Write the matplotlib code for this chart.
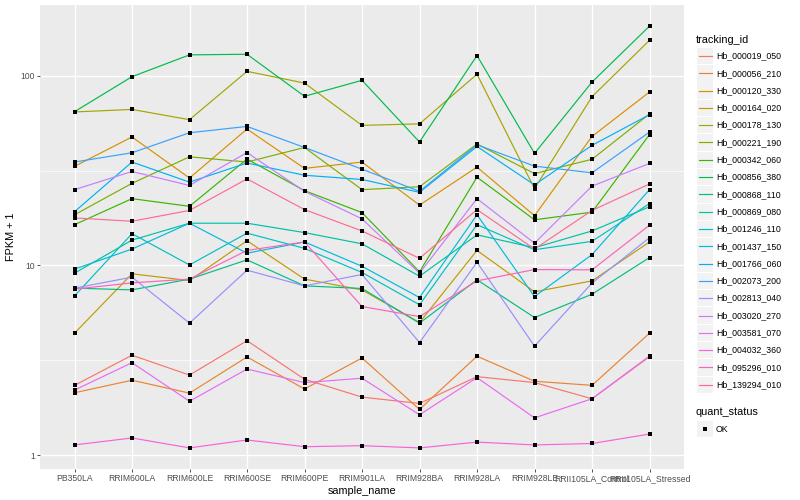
import numpy as np
import matplotlib
matplotlib.use('Agg')
import matplotlib.pyplot as plt
from matplotlib.lines import Line2D
from matplotlib.patches import Rectangle

plt.rcParams['font.family'] = ['Liberation Sans', 'DejaVu Sans']

samples = ['PB350LA', 'RRIM600LA', 'RRIM600LE', 'RRIM600SE', 'RRIM600PE', 'RRIM901LA',
           'RRIM928BA', 'RRIM928LA', 'RRIM928LE', 'RRII105LA_Control', 'RRII105LA_Stressed']

tracking_ids = ['Hb_000019_050', 'Hb_000056_210', 'Hb_000120_330', 'Hb_000164_020',
                'Hb_000178_130', 'Hb_000221_190', 'Hb_000342_060', 'Hb_000856_380',
                'Hb_000868_110', 'Hb_000869_080', 'Hb_001246_110', 'Hb_001437_150',
                'Hb_001766_060', 'Hb_002073_200', 'Hb_002813_040', 'Hb_003020_270',
                'Hb_003581_070', 'Hb_004032_360', 'Hb_095296_010', 'Hb_139294_010']

# FPKM + 1 per sample
hb_000019_050 = [2.33, 3.36, 2.64, 4.01, 2.51, 2.02, 1.87, 2.59, 2.41, 1.98, 3.30]
hb_000056_210 = [2.13, 2.48, 2.12, 3.29, 2.23, 3.25, 1.74, 3.32, 2.45, 2.33, 4.39]
hb_000120_330 = [33.3, 47.6, 28.9, 52.4, 32.5, 35.1, 20.8, 33.0, 18.3, 47.9, 82.2]
hb_000164_020 = [4.39, 9.03, 8.32, 13.5, 8.47, 7.43, 5.0, 12.0, 7.26, 8.29, 13.3]
hb_000178_130 = [64.5, 66.5, 58.7, 105.6, 91.6, 54.8, 55.8, 102.0, 25.4, 77.6, 154.0]
hb_000221_190 = [18.5, 27.1, 37.4, 35.1, 41.9, 25.1, 26.0, 43.7, 30.5, 36.3, 63.0]
hb_000342_060 = [16.4, 22.5, 20.5, 36.4, 24.8, 19.0, 9.25, 29.2, 17.4, 19.1, 49.0]
hb_000856_380 = [64.7, 99.0, 129.0, 130.0, 78.0, 94.7, 44.8, 128.0, 39.0, 92.7, 183.0]
hb_000868_110 = [7.59, 7.43, 8.47, 10.7, 7.8, 7.56, 4.96, 8.4, 5.31, 7.05, 11.0]
hb_000869_080 = [9.1, 13.6, 16.7, 16.7, 14.9, 13.0, 8.77, 14.5, 12.4, 15.2, 20.4]
hb_001246_110 = [6.9, 14.7, 10.06, 14.8, 12.3, 9.18, 6.2, 16.4, 12.1, 13.4, 21.2]
hb_001437_150 = [9.56, 12.2, 16.7, 11.6, 13.3, 9.9, 6.77, 18.5, 6.85, 11.4, 25.1]
hb_001766_060 = [19.2, 35.1, 27.5, 34.7, 29.9, 28.4, 24.3, 42.4, 26.6, 43.0, 62.4]
hb_002073_200 = [35.1, 39.3, 50.1, 54.1, 41.9, 32.2, 24.6, 43.3, 33.4, 30.8, 50.5]
hb_002813_040 = [7.59, 8.67, 4.96, 9.44, 7.8, 8.96, 3.92, 10.4, 3.75, 8.07, 14.0]
hb_003020_270 = [25.1, 31.3, 26.4, 39.4, 24.6, 17.6, 9.1, 22.5, 13.1, 26.2, 34.5]
hb_003581_070 = [2.2, 3.07, 1.92, 2.84, 2.41, 2.54, 1.63, 2.56, 1.57, 1.98, 3.33]
hb_004032_360 = [1.13, 1.23, 1.09, 1.20, 1.106, 1.12, 1.09, 1.17, 1.13, 1.15, 1.29]
hb_095296_010 = [7.5, 8.09, 8.47, 12.0, 13.3, 6.07, 5.37, 8.29, 9.51, 9.48, 16.3]
hb_139294_010 = [17.8, 17.1, 19.5, 28.6, 19.7, 15.2, 10.9, 19.7, 12.2, 19.5, 26.9]

series = [hb_000019_050, hb_000056_210, hb_000120_330, hb_000164_020, hb_000178_130,
          hb_000221_190, hb_000342_060, hb_000856_380, hb_000868_110, hb_000869_080,
          hb_001246_110, hb_001437_150, hb_001766_060, hb_002073_200, hb_002813_040,
          hb_003020_270, hb_003581_070, hb_004032_360, hb_095296_010, hb_139294_010]

# ggplot2 hue palette, 20 levels
colors = ['#F8766D', '#EA8331', '#D89000', '#C09B00', '#A3A500', '#7CAE00', '#39B600',
          '#00BB4E', '#00BF7D', '#00C1A3', '#00BFC4', '#00BAE0', '#00B0F6', '#35A2FF',
          '#9590FF', '#C77CFF', '#E76BF3', '#FA62DB', '#FF62BC', '#FF6C91']

fig = plt.figure(figsize=(8, 5), dpi=100)
ax = fig.add_axes([40 / 800, 31 / 500, 644 / 800, 464 / 500])
ax.set_facecolor('#EBEBEB')

x = np.arange(len(samples))
for vals, col in zip(series, colors):
    ax.plot(x, vals, color=col, lw=0.85, zorder=3)
for vals in series:
    ax.plot(x, vals, 's', color='black', ms=2.4, mew=0, zorder=4)

ax.set_yscale('log')
allv = np.log10(np.concatenate([np.array(s) for s in series]))
lo, hi = allv.min(), allv.max()
pad = (hi - lo) * 0.05
ax.set_ylim(10 ** (lo - pad), 10 ** (hi + pad))
ax.set_xlim(-0.6, len(samples) - 0.4)

ax.set_yticks([1, 10, 100])
ax.set_yticklabels(['1', '10', '100'])
ax.set_yticks([10 ** 0.5, 10 ** 1.5], minor=True)
ax.yaxis.set_minor_formatter(matplotlib.ticker.NullFormatter())
ax.set_xticks(x)
ax.set_xticklabels(samples)

ax.grid(True, which='major', color='white', lw=1.0, zorder=0)
ax.grid(True, which='minor', axis='y', color='white', lw=0.5, zorder=0)
ax.set_axisbelow(True)
for s in ax.spines.values():
    s.set_visible(False)
ax.tick_params(which='major', length=2.2, width=0.6, color='#333333',
               labelsize=6.2, labelcolor='#4D4D4D', pad=1.5)
ax.tick_params(which='minor', length=0)

ax.set_xlabel('sample_name', fontsize=7.8, labelpad=2)
ax.set_ylabel('FPKM + 1', fontsize=7.8, labelpad=3)

# legends, drawn in pixel coords
def fx(px):
    return px / 800

def fy(py):
    return 1 - py / 500

fig.text(fx(696), fy(40), 'tracking_id', fontsize=7.8, va='center', ha='left')
for i, (tid, col) in enumerate(zip(tracking_ids, colors)):
    yc = 56 + i * 17.3
    fig.add_artist(Rectangle((fx(697), fy(yc + 8.2)), 16 / 800, 16.4 / 500,
                             transform=fig.transFigure, facecolor='#F2F2F2', edgecolor='none'))
    fig.add_artist(Line2D([fx(698.5), fx(711.5)], [fy(yc), fy(yc)],
                          transform=fig.transFigure, color=col, lw=0.85))
    fig.text(fx(716), fy(yc), tid, fontsize=6.3, va='center', ha='left', color='black')

fig.text(fx(696), fy(412), 'quant_status', fontsize=7.8, va='center', ha='left')
fig.add_artist(Rectangle((fx(697), fy(429 + 8.2)), 16 / 800, 16.4 / 500,
                         transform=fig.transFigure, facecolor='#F2F2F2', edgecolor='none'))
fig.add_artist(Line2D([fx(705)], [fy(429)], transform=fig.transFigure,
                      marker='s', color='black', ms=2.4, mew=0, ls='none'))
fig.text(fx(716), fy(429), 'OK', fontsize=6.3, va='center', ha='left')

fig.savefig('out.png', dpi=100)
